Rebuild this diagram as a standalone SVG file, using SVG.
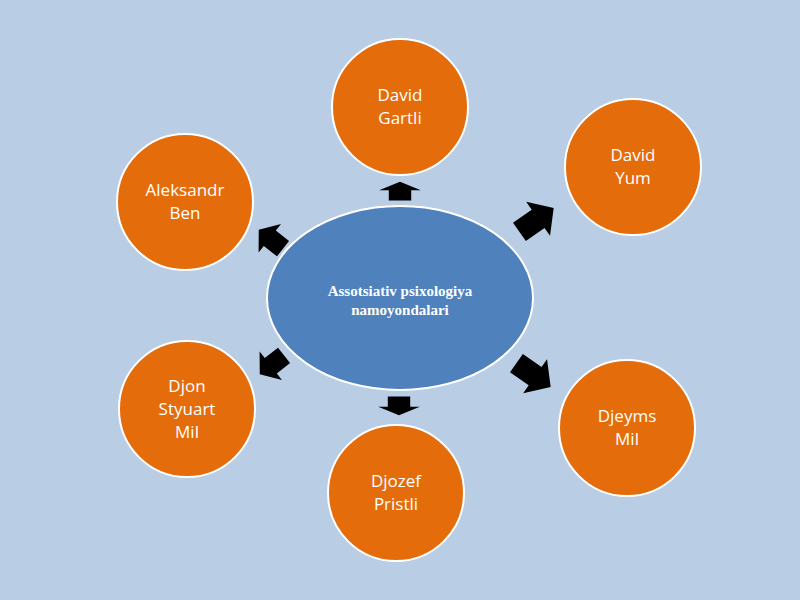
<svg xmlns="http://www.w3.org/2000/svg" width="800" height="600" viewBox="0 0 800 600">
<style>
.n{fill:#e46c0a;stroke:#fff;stroke-width:2}
.t{font-family:"Open Sans","Liberation Sans",sans-serif;font-size:17px;fill:#fff;text-anchor:middle}
.c{font-family:"Liberation Serif",serif;font-size:15px;font-weight:bold;fill:#fff;text-anchor:middle}
.a{fill:#000}
</style>
<defs><path id="ar" d="M-10,-7 L2,-7 L2,-13 L12,0 L2,13 L2,7 L-10,7 Z"/></defs>
<rect width="800" height="600" fill="#b9cde5"/>
<g id="connectors">
<use href="#ar" class="a" transform="translate(400,192) rotate(-90) scale(0.85,1.6)"/>
<use href="#ar" class="a" transform="translate(535,221) rotate(-35) scale(1.9,1.6)"/>
<use href="#ar" class="a" transform="translate(532,374) rotate(35) scale(1.9,1.6)"/>
<use href="#ar" class="a" transform="translate(399,405) rotate(90) scale(0.85,1.6)"/>
<use href="#ar" class="a" transform="translate(273,364) rotate(142) scale(1.4,1.4)"/>
<use href="#ar" class="a" transform="translate(272,240) rotate(-142) scale(1.4,1.4)"/>
</g>
<g id="center"><ellipse cx="400" cy="298" rx="133" ry="92" fill="#4f81bd" stroke="#fff" stroke-width="2"/>
<text class="c" x="400" y="296">Assotsiativ psixologiya</text><text class="c" x="400" y="315">namoyondalari</text></g>
<g id="n1"><circle class="n" cx="400" cy="107" r="68"/><text class="t" x="400" y="101">David</text><text class="t" x="400" y="124">Gartli</text></g>
<g id="n2"><circle class="n" cx="633" cy="167" r="68"/><text class="t" x="633" y="161">David</text><text class="t" x="633" y="184">Yum</text></g>
<g id="n3"><circle class="n" cx="627" cy="428" r="68"/><text class="t" x="627" y="422">Djeyms</text><text class="t" x="627" y="445">Mil</text></g>
<g id="n4"><circle class="n" cx="396" cy="493" r="68"/><text class="t" x="396" y="487">Djozef</text><text class="t" x="396" y="510">Pristli</text></g>
<g id="n5"><circle class="n" cx="187" cy="409" r="68"/><text class="t" x="187" y="392">Djon</text><text class="t" x="187" y="415">Styuart</text><text class="t" x="187" y="438">Mil</text></g>
<g id="n6"><circle class="n" cx="185" cy="202" r="68"/><text class="t" x="185" y="196">Aleksandr</text><text class="t" x="185" y="219">Ben</text></g>
</svg>
